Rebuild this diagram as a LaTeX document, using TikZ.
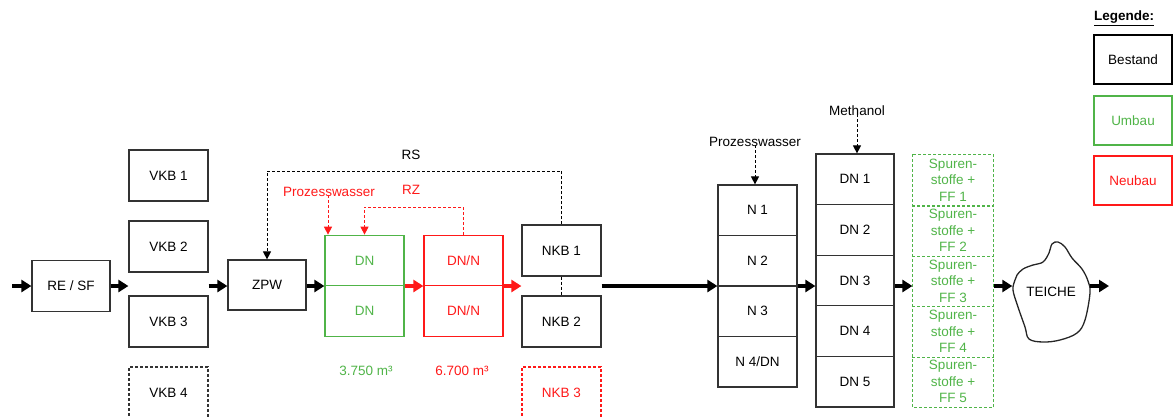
\documentclass[tikz,border=0pt]{standalone}
\usepackage{fontspec}
\setmainfont{Liberation Sans}
\usetikzlibrary{arrows.meta,calc}
\definecolor{ugreen}{RGB}{80,180,72}
\definecolor{nred}{RGB}{255,25,25}
\begin{document}
\begin{tikzpicture}[x=1pt,y=-1pt,
  txt/.style={font=\fontsize{13.5}{16.5}\selectfont, inner sep=1pt, align=center},
  box/.style={txt, draw=black!80, line width=1.2pt, minimum width=79pt, minimum height=51pt, inner sep=0pt},
  gbox/.style={box, draw=ugreen, text=ugreen},
  rbox/.style={box, draw=nred, text=nred},
  dbox/.style={dash pattern=on 3pt off 2pt},
  arr/.style={line width=3.2pt, -{Triangle[length=10pt,width=12pt]}},
  rarr/.style={arr, color=nred},
  tarr/.style={line width=4pt, -{Triangle[length=10pt,width=12pt]}},
  darr/.style={line width=1pt, dash pattern=on 3pt off 2pt, -{Triangle[length=8pt,width=8pt]}},
  dline/.style={line width=1pt, dash pattern=on 3pt off 2pt},
  gdash/.style={draw=ugreen, line width=1.2pt, dash pattern=on 3pt off 2pt},
  legbox/.style={box, line width=2.5pt, minimum width=78pt, minimum height=49pt}
]
\useasboundingbox (0,0) rectangle (1176,416);
\coordinate (fy) at (0,286);
\coordinate (in) at (12,286);
\coordinate (out) at (1109,286);

% left part
\node[box, minimum width=78pt] (resf) at (71,286) {RE / SF};
\node[box] (vkb1) at (168.5,175.5) {VKB 1};
\node[box] (vkb2) at (168.5,246.5) {VKB 2};
\node[box] (vkb3) at (168.5,321.5) {VKB 3};
\node[box, dbox] (vkb4) at (168.5,392.5) {VKB 4};
\node[box, minimum width=78pt, minimum height=50pt] (zpw) at (267,285) {ZPW};

% DN green, DN/N red
\node[gbox, minimum height=50.5pt] (dn1) at (364.5,260.5) {DN};
\node[gbox, minimum height=50.5pt] (dn2) at (364.5,311) {DN};
\node[rbox, minimum height=50.5pt] (dnn1) at (463.5,260.5) {DN/N};
\node[rbox, minimum height=50.5pt] (dnn2) at (463.5,311) {DN/N};
\node[txt, text=ugreen] (v1) at (366,371) {3.750 m³};
\node[txt, text=nred] (v2) at (462,371) {6.700 m³};

% NKB
\node[box] (nkb1) at (561.5,250.5) {NKB 1};
\node[box] (nkb2) at (561.5,321.5) {NKB 2};
\node[rbox, dbox] (nkb3) at (561.5,392.5) {NKB 3};

% N column
\node[box, minimum height=50.5pt] (n1) at (757.5,210.25) {N 1};
\node[box, minimum height=50.5pt] (n2) at (757.5,260.75) {N 2};
\node[box, minimum height=50.5pt] (n3) at (757.5,311.25) {N 3};
\node[box, minimum height=50.5pt] (n4) at (757.5,361.75) {N 4/DN};

% DN column
\node[box, minimum width=78pt, minimum height=50.6pt] (dc1) at (855,179.3) {DN 1};
\node[box, minimum width=78pt, minimum height=50.6pt] (dc2) at (855,229.9) {DN 2};
\node[box, minimum width=78pt, minimum height=50.6pt] (dc3) at (855,280.5) {DN 3};
\node[box, minimum width=78pt, minimum height=50.6pt] (dc4) at (855,331.1) {DN 4};
\node[box, minimum width=78pt, minimum height=50.6pt] (dc5) at (855,381.7) {DN 5};

% Spurenstoffe
\foreach \i/\y in {1/180.2,2/230.6,3/281,4/331.4,5/381.8}{
  \node[box, draw=none, text=ugreen, minimum width=80pt, minimum height=50.4pt] (sp\i) at (953,\y) {Spuren-\\stoffe +\\FF \i};
}
\draw[gdash] (sp1.north west) rectangle (sp5.south east);
\foreach \i in {1,2,3,4}{
  \draw[gdash] (sp\i.south west) -- (sp\i.south east);
}

% Teiche cloud
\draw[line width=1.3pt, black!85] plot[smooth cycle, tension=0.6] coordinates {
 (1015,280) (1013,290) (1018,307) (1025,327) (1029,339) (1043,342) (1060,340)
 (1077,333) (1085,320) (1090,293) (1088,281) (1082,269) (1072,258) (1065,247)
 (1058,242) (1052,244) (1049,253) (1043,262) (1033,265) (1023,269) (1017,275)};
\node[txt, minimum width=77pt, minimum height=100pt] (teiche) at (1051,292) {TEICHE};

% main flow arrows
\draw[arr] (in) -- (resf.west |- fy);
\draw[arr] (resf.east |- fy) -- (vkb2.west |- fy);
\draw[arr] (vkb2.east |- fy) -- (zpw.west |- fy);
\draw[arr] (zpw.east |- fy) -- (dn1.west |- fy);
\draw[rarr] (dn1.east |- fy) -- (dnn1.west |- fy);
\draw[rarr] (dnn1.east |- fy) -- (nkb1.west |- fy);
\draw[tarr] (nkb1.east |- fy) -- (n1.west |- fy);
\draw[arr] (n1.east |- fy) -- (dc1.west |- fy);
\draw[arr] (dc1.east |- fy) -- (sp1.west |- fy);
\draw[arr] (sp1.east |- fy) -- (teiche.west |- fy);
\draw[arr] (teiche.east |- fy) -- (out);

% RS return
\node[txt] (rs) at (411,155) {RS};
\coordinate (rsy) at (0,171);
\draw[darr] (nkb1.north) -- (nkb1.north |- rsy) -- (zpw.north |- rsy) -- (zpw.north);
\draw[dline] (nkb1.south) -- (nkb2.north);

% RZ return
\node[txt, text=nred] (rz) at (411,190) {RZ};
\coordinate (rzy) at (0,207);
\draw[darr, color=nred] (dnn1.north) -- (dnn1.north |- rzy) -- (dn1.north |- rzy) -- (dn1.north);

% Prozesswasser red
\node[txt, text=nred, anchor=south] (pwr) at (329,198) {Prozesswasser};
\draw[darr, color=nred] ([yshift=3pt]pwr.south -| 328,0) -- (328,0 |- dn1.north);

% Prozesswasser black, Methanol
\node[txt, anchor=south] (pwb) at (755,148) {Prozesswasser};
\draw[darr] ([yshift=3pt]pwb.south) -- (pwb.south |- n1.north);
\node[txt, anchor=south] (meth) at (857,117) {Methanol};
\draw[darr] ([yshift=3pt]meth.south) -- (meth.south |- dc1.north);

% Legend
\node[txt] (leg) at (1124,18) {\underline{\textbf{Legende:}}};
\node[legbox, draw=black] (best) at (1133,59.5) {Bestand};
\node[legbox, draw=ugreen, text=ugreen] (umb) at (1133,120.5) {Umbau};
\node[legbox, draw=nred, text=nred] (neu) at (1133,180.5) {Neubau};
\end{tikzpicture}
\end{document}
